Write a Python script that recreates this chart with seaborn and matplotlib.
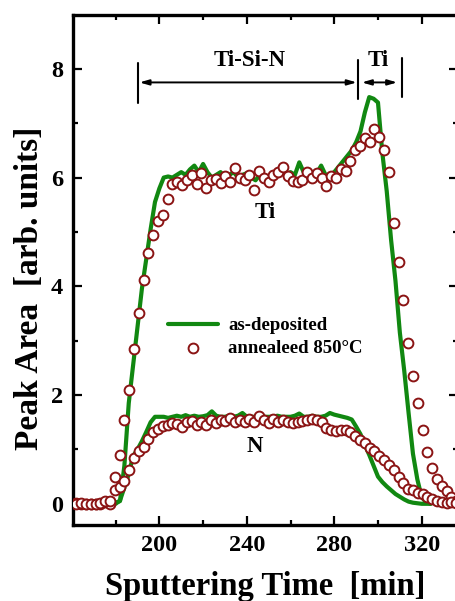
import numpy as np
import pandas as pd
import matplotlib
matplotlib.use("Agg")
import matplotlib.pyplot as plt
from matplotlib.ticker import MultipleLocator
import seaborn as sns

# ---------------- data ----------------
# as-deposited (green line), time in min
t_dep = [160, 162, 164, 166, 168, 170, 172, 174, 176, 178, 180, 182, 184, 186, 188,
         190, 192, 194, 196, 198, 200, 202, 204, 206, 208, 210, 212, 214, 216, 218,
         220, 222, 224, 226, 228, 230, 232, 234, 236, 238, 240, 242, 244, 246, 248,
         250, 252, 254, 256, 258, 260, 262, 264, 266, 268, 270, 272, 274, 276, 278,
         280, 282, 284, 286, 288, 290, 292, 294, 296, 298, 300, 302, 304, 306, 308,
         310, 312, 314, 316, 318, 320, 322, 324]
ti_dep = [0.02, 0.00, 0.03, 0.05, 0.02, 0.00, 0.02, 0.00, 0.01, 0.00, 0.02, 0.05, 0.70, 1.85, 2.55,
          3.25, 3.95, 4.50, 5.05, 5.55, 5.80, 6.00, 6.02, 6.00, 6.05, 6.10, 6.05, 6.15, 6.22, 6.10,
          6.25, 6.10, 6.00, 6.05, 6.10, 6.00, 6.05, 6.10, 6.00, 6.05, 6.08, 6.00, 5.95, 6.05, 6.05,
          6.00, 6.08, 6.05, 6.10, 6.05, 6.10, 6.05, 6.28, 6.10, 6.05, 6.10, 6.08, 6.22, 6.05, 6.05,
          6.10, 6.20, 6.30, 6.40, 6.50, 6.65, 6.85, 7.20, 7.48, 7.45, 7.38, 6.45, 5.75, 4.85, 4.10,
          3.15, 2.45, 1.67, 0.92, 0.45, 0.12, 0.03, 0.00]
n_dep = [0.00, 0.02, 0.00, 0.03, 0.01, 0.00, 0.02, 0.00, 0.00, 0.01, 0.00, 0.06, 0.30, 0.55, 0.88,
         1.00, 1.15, 1.32, 1.50, 1.60, 1.60, 1.60, 1.58, 1.60, 1.62, 1.60, 1.63, 1.60, 1.62, 1.60,
         1.61, 1.63, 1.70, 1.62, 1.60, 1.60, 1.62, 1.60, 1.62, 1.67, 1.60, 1.60, 1.60, 1.62, 1.60,
         1.60, 1.60, 1.62, 1.60, 1.60, 1.60, 1.62, 1.66, 1.60, 1.60, 1.62, 1.60, 1.60, 1.62, 1.67,
         1.64, 1.62, 1.60, 1.58, 1.55, 1.42, 1.28, 1.08, 0.90, 0.70, 0.50, 0.40, 0.32, 0.25, 0.18,
         0.13, 0.08, 0.04, 0.02, 0.01, 0.00, 0.00, 0.00]

# annealed 850 C (open circles)
t_ann = [162.0, 164.2, 166.4, 168.6, 170.8, 173.0, 175.2, 177.4, 179.6, 181.8,
         184.0, 186.2, 188.4, 190.6, 192.8, 195.0, 197.2, 199.4, 201.6, 203.8,
         206.0, 208.2, 210.4, 212.6, 214.8, 217.0, 219.2, 221.4, 223.6, 225.8,
         228.0, 230.2, 232.4, 234.6, 236.8, 239.0, 241.2, 243.4, 245.6, 247.8,
         250.0, 252.2, 254.4, 256.6, 258.8, 261.0, 263.2, 265.4, 267.6, 269.8,
         272.0, 274.2, 276.4, 278.6, 280.8, 283.0, 285.2, 287.4, 289.6, 291.8,
         294.0, 296.2, 298.4, 300.6, 302.8, 305.0, 307.2, 309.4, 311.6, 313.8,
         316.0, 318.2, 320.4, 322.6, 324.8, 327.0, 329.2, 331.4, 333.6, 335.8]
ti_ann = [0.01, 0.00, 0.00, 0.00, 0.00, 0.00, 0.04, 0.00, 0.50, 0.90,
          1.55, 2.10, 2.85, 3.50, 4.12, 4.62, 4.95, 5.20, 5.32, 5.60,
          5.88, 5.92, 5.86, 5.95, 6.04, 5.89, 6.08, 5.80, 5.95, 5.97,
          5.90, 6.02, 5.91, 6.18, 6.00, 5.96, 6.05, 5.78, 6.12, 6.00,
          5.92, 6.05, 6.10, 6.20, 6.02, 5.93, 5.92, 5.95, 6.10, 6.00,
          6.08, 6.00, 5.84, 6.03, 6.00, 6.15, 6.12, 6.30, 6.50, 6.58,
          6.72, 6.66, 6.90, 6.75, 6.50, 6.10, 5.16, 4.45, 3.75, 2.95,
          2.35, 1.86, 1.36, 0.95, 0.66, 0.45, 0.32, 0.23, 0.12, 0.05]
n_ann = [0.00, 0.01, 0.00, 0.00, 0.00, 0.01, 0.06, 0.05, 0.25, 0.30,
         0.42, 0.62, 0.85, 0.97, 1.05, 1.20, 1.32, 1.38, 1.43, 1.45,
         1.49, 1.47, 1.42, 1.51, 1.52, 1.45, 1.50, 1.45, 1.55, 1.48,
         1.55, 1.52, 1.58, 1.50, 1.55, 1.50, 1.56, 1.50, 1.62, 1.55,
         1.48, 1.56, 1.50, 1.54, 1.50, 1.48, 1.50, 1.52, 1.55, 1.56,
         1.55, 1.50, 1.40, 1.35, 1.33, 1.36, 1.36, 1.32, 1.25, 1.18,
         1.12, 1.03, 0.97, 0.88, 0.80, 0.71, 0.62, 0.50, 0.39, 0.27,
         0.26, 0.20, 0.18, 0.12, 0.08, 0.05, 0.03, 0.01, 0.03, 0.02]

x_ticks = [200, 240, 280, 320]
y_ticks = [0, 2, 4, 6, 8]

# annotation geometry (data units)
bar_x = [190.3, 290.9, 310.9]
bar_y0 = [7.38, 7.44, 7.49]
bar_y1 = [8.11, 8.17, 8.19]
arrow_y = 7.75
region_labels = ["Ti-Si-N", "Ti"]
region_label_x = [241.5, 300.1]
region_label_y = 8.15
arrows = [(190.9, 290.3), (292.6, 308.8)]

GREEN = "#118811"
RED = "#8b1414"

# ---------------- style ----------------
sns.set_style("ticks")
plt.rcParams["font.family"] = ["Liberation Serif", "DejaVu Serif"]
plt.rcParams["font.weight"] = "bold"
plt.rcParams["axes.labelweight"] = "bold"
for k in ["text.color", "axes.labelcolor", "xtick.color", "ytick.color",
          "axes.edgecolor", "xtick.labelcolor", "ytick.labelcolor"]:
    plt.rcParams[k] = "black"

fig = plt.figure(figsize=(4.55, 6.01), dpi=100)
W, H = 455, 601
ax = fig.add_axes([73 / W, 1 - 525 / H, (458 - 73) / W, (525 - 15) / H])

dep = pd.DataFrame({"t": t_dep, "Ti": ti_dep, "N": n_dep})
ann = pd.DataFrame({"t": t_ann, "Ti": ti_ann, "N": n_ann})

sns.lineplot(data=dep, x="t", y="Ti", ax=ax, color=GREEN, lw=3.0, sort=False,
             estimator=None, label="as-deposited", zorder=2)
sns.lineplot(data=dep, x="t", y="N", ax=ax, color=GREEN, lw=3.0, sort=False,
             estimator=None, zorder=2)
sns.scatterplot(data=ann, x="t", y="Ti", ax=ax, marker="o", s=50, facecolor="white",
                edgecolor=RED, linewidth=1.4, label="annealeed 850°C", zorder=3)
sns.scatterplot(data=ann, x="t", y="N", ax=ax, marker="o", s=50, facecolor="white",
                edgecolor=RED, linewidth=1.4, zorder=3)

ax.set_xlim(160.5, 336.6)
ax.set_ylim(-0.39, 8.99)
ax.set_xticks(x_ticks)
ax.set_yticks(y_ticks)
ax.xaxis.set_minor_locator(MultipleLocator(20))
ax.yaxis.set_minor_locator(MultipleLocator(1))
ax.tick_params(which="both", direction="in", top=True, right=True, width=1.6,
               color="black")
ax.tick_params(which="major", length=6.5, labelsize=17.5, pad=7)
ax.tick_params(which="minor", length=3.8)
for lab in ax.get_xticklabels() + ax.get_yticklabels():
    lab.set_fontweight("bold")
for sp in ax.spines.values():
    sp.set_linewidth(2.4)
    sp.set_visible(True)
    sp.set_color("black")

ax.set_xlabel("Sputtering Time  [min]", fontsize=23.5, fontweight="bold", labelpad=11)
ax.set_ylabel("Peak Area  [arb. units]", fontsize=24, fontweight="bold")
ax.yaxis.set_label_coords((45 - 73) / 385, (525 - 288) / 510)

# region annotations
for bx, b0, b1 in zip(bar_x, bar_y0, bar_y1):
    ax.plot([bx, bx], [b0, b1], color="black", lw=1.5, zorder=4)
for (a0, a1) in arrows:
    ax.annotate("", xy=(a1, arrow_y), xytext=(a0, arrow_y),
                arrowprops=dict(arrowstyle="<|-|>,head_length=0.55,head_width=0.16",
                                color="black", lw=1.4, shrinkA=0, shrinkB=0))
for lbl, lx in zip(region_labels, region_label_x):
    ax.text(lx, region_label_y, lbl, ha="center", va="center", fontsize=16.5,
            fontweight="bold")

ax.text(248.4, 5.36, "Ti", ha="center", va="center", fontsize=16.5, fontweight="bold")
ax.text(243.8, 1.05, "N", ha="center", va="center", fontsize=16.5, fontweight="bold")

leg = ax.legend(loc="center left", bbox_to_anchor=((168 - 73) / 385, (525 - 337) / 510),
                frameon=False, fontsize=13.5, handlelength=2.65, handletextpad=0.55,
                borderpad=0, borderaxespad=0, labelspacing=0.3)
for t in leg.get_texts():
    t.set_fontweight("bold")
    t.set_color("black")

fig.savefig("out.png", dpi=100)
